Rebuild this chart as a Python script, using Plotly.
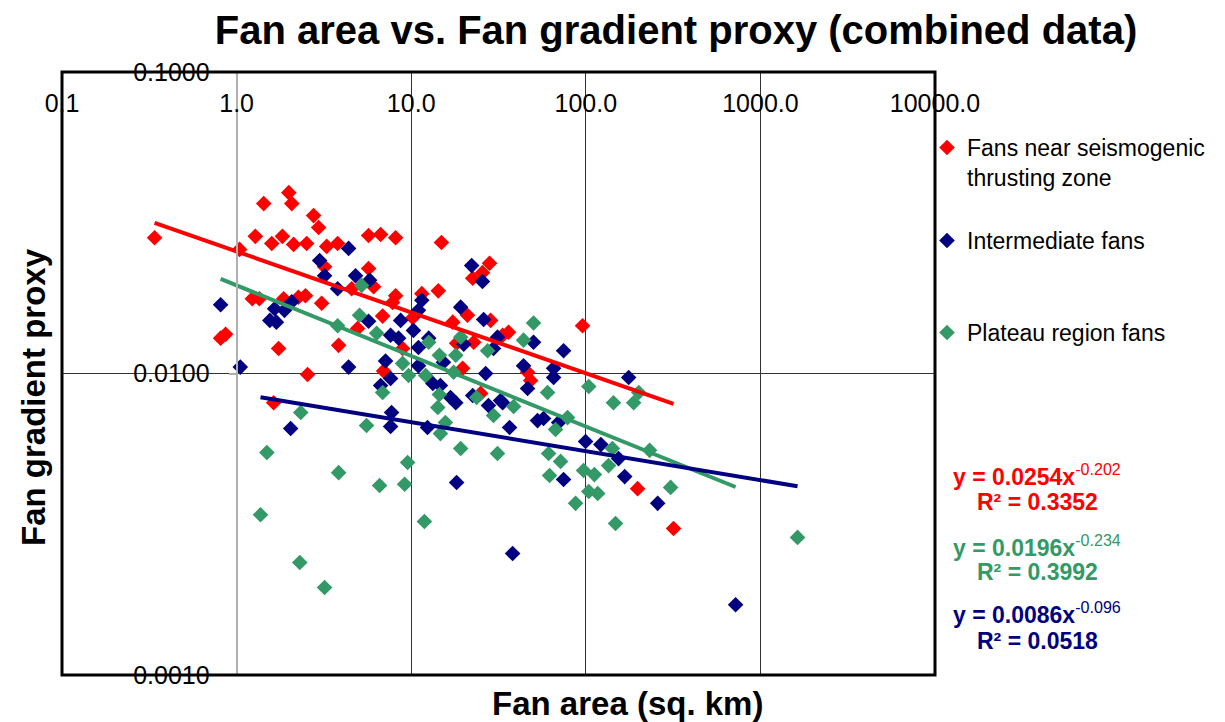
import plotly.graph_objects as go
import numpy as np

# ---------------- data ----------------
series_names = ["Fans near seismogenic<br>thrusting zone", "Intermediate fans", "Plateau region fans"]
series_colors = ["#FF0000", "#000080", "#339966"]

red_x = [0.339, 1.04, 1.43, 1.99, 2.07, 2.76, 2.95, 1.28, 1.83, 1.59, 2.12, 2.52, 3.28, 3.79, 5.70,
         6.68, 8.14, 14.9, 3.19, 5.70, 6.09, 4.56, 1.23, 1.35, 1.86, 2.26, 2.48, 3.07, 8.14, 7.82,
         6.86, 10.2, 0.865, 0.81, 4.93, 1.74, 3.84, 2.55, 6.95, 1.63, 28.1, 25.6, 22.5, 14.3, 11.5,
         21.0, 28.5, 17.3, 36.1, 33.4, 22.8, 18.2, 95.8, 19.7, 46.4, 48.3, 25.0, 8.93, 198, 318]
red_y = [0.0282, 0.0258, 0.0366, 0.0398, 0.0366, 0.0334, 0.0305, 0.0285, 0.0285, 0.0270, 0.0268,
         0.0270, 0.0264, 0.0270, 0.0287, 0.0289, 0.0282, 0.0272, 0.0226, 0.0223, 0.0194, 0.0191,
         0.0177, 0.0177, 0.0177, 0.0179, 0.0181, 0.0171, 0.0181, 0.0172, 0.0155, 0.0153, 0.0135,
         0.0131, 0.0141, 0.0121, 0.0124, 0.00992, 0.0102, 0.0080, 0.0232, 0.0216, 0.0207, 0.0188,
         0.0184, 0.0156, 0.0150, 0.0148, 0.0137, 0.0134, 0.0127, 0.0126, 0.0144, 0.0104, 0.0101,
         0.00948, 0.00859, 0.0121, 0.00415, 0.00306]

blue_x = [0.81, 1.05, 4.38, 2.99, 3.19, 4.80, 5.78, 3.79, 2.07, 1.65, 1.88, 1.55, 1.69, 5.70, 8.70,
          10.3, 7.62, 8.47, 22.2, 25.6, 11.5, 11.0, 19.2, 26.0, 12.6, 31.2, 20.0, 50.2, 74.6, 11.0,
          29.6, 44.0, 65.4, 65.4, 26.7, 15.3, 11.0, 13.3, 14.7, 46.4, 176, 16.8, 22.5, 32.5, 4.38,
          7.13, 7.62, 6.68, 18.0, 27.7, 2.04, 7.72, 7.62, 12.4, 33.4, 36.6, 52.9, 57.3, 69.9, 99.7,
          122, 154, 167, 74.6, 258, 18.2, 38.1, 721]
blue_y = [0.0169, 0.0105, 0.0260, 0.0237, 0.0211, 0.0211, 0.0204, 0.0191, 0.0173, 0.0164, 0.0162,
          0.0150, 0.0148, 0.0149, 0.0150, 0.0139, 0.0134, 0.0131, 0.0228, 0.0202, 0.0175, 0.0162,
          0.0166, 0.0151, 0.0131, 0.0132, 0.0125, 0.0127, 0.0119, 0.0122, 0.0121, 0.0106, 0.0104,
          0.0097, 0.0100, 0.0109, 0.0106, 0.00927, 0.00912, 0.00892, 0.0097, 0.00833, 0.00845,
          0.00814, 0.0105, 0.0110, 0.00963, 0.00912, 0.0080, 0.00783, 0.00657, 0.00742, 0.00667,
          0.00662, 0.0080, 0.00662, 0.00698, 0.00709, 0.00688, 0.00595, 0.00581, 0.00522, 0.00455,
          0.00445, 0.00371, 0.00435, 0.00253, 0.00171]

green_x = [5.20, 3.79, 5.06, 6.34, 50.2, 12.6, 19.2, 44.0, 27.4, 14.5, 18.0, 8.93, 9.66, 12.1, 17.5,
           14.5, 23.7, 60.4, 104, 201, 144, 188, 6.86, 14.2, 29.6, 2.33, 5.55, 14.7, 15.7, 19.2,
           1.49, 9.54, 31.2, 38.6, 78.6, 67.1, 142, 232, 61.2, 71.7, 135, 97.1, 112, 62.0, 104,
           117, 306, 87.4, 148, 2.30, 3.19, 3.84, 6.59, 9.17, 11.9, 1.37, 1632]
green_y = [0.0196, 0.0144, 0.0156, 0.0136, 0.0147, 0.0127, 0.0132, 0.0129, 0.0119, 0.0115, 0.0115,
           0.0108, 0.00985, 0.00985, 0.0101, 0.00852, 0.00833, 0.00865, 0.00906, 0.00865, 0.0080,
           0.0080, 0.00865, 0.00771, 0.00726, 0.00742, 0.00672, 0.00632, 0.00688, 0.00564, 0.00547,
           0.00507, 0.00543, 0.00777, 0.00714, 0.00652, 0.00564, 0.00556, 0.00543, 0.00511, 0.00495,
           0.00477, 0.00462, 0.00459, 0.00406, 0.0040, 0.00419, 0.00371, 0.00318, 0.00236, 0.00195,
           0.00469, 0.00425, 0.00429, 0.00323, 0.00340, 0.00286]

# power-law trendlines as printed on the chart: y = a * x^b
trend_a = [0.0254, 0.0196, 0.0086]
trend_b = [-0.202, -0.234, -0.096]
trend_r2 = [0.3352, 0.3992, 0.0518]
trend_colors = ["#FF0000", "#339966", "#000080"]
trend_span = [0, 1, 2]  # series whose x-extent each drawn line covers

x_tickvals = [0.1, 1, 10, 100, 1000, 10000]
x_ticktext = ["0.1", "1.0", "10.0", "100.0", "1000.0", "10000.0"]
y_tickvals = [0.001, 0.01, 0.1]
y_ticktext = ["0.0010", "0.0100", "0.1000"]

# ---------------- layout geometry ----------------
W, H = 1225, 722
L, R, T, B = 62, 935, 72, 675
FONT = "Liberation Sans, Arial, sans-serif"


def px_x(p):
    return (p - L) / (R - L)


def px_y(p):
    return 1 - (p - T) / (B - T)


xs = [red_x, blue_x, green_x]
ys = [red_y, blue_y, green_y]

fig = go.Figure()
legend_ids = ["legend", "legend2", "legend3"]
for i in range(3):
    fig.add_trace(go.Scatter(
        x=xs[i], y=ys[i], mode="markers", name=series_names[i],
        marker=dict(symbol="diamond", size=12, color=series_colors[i], line=dict(width=0)),
        legend=legend_ids[i], cliponaxis=False,
    ))

for k in range(3):
    src = np.array(xs[trend_span[k]], dtype=float)
    lx = np.logspace(np.log10(src.min()), np.log10(src.max()), 30)
    ly = trend_a[k] * lx ** trend_b[k]
    fig.add_trace(go.Scatter(x=lx, y=ly, mode="lines", showlegend=False,
                             line=dict(color=trend_colors[k], width=4), hoverinfo="skip"))

legend_common = dict(xanchor="left", yanchor="top", bgcolor="rgba(0,0,0,0)", borderwidth=0,
                     font=dict(family=FONT, size=23, color="black"), valign="top",
                     itemwidth=30, xref="paper", yref="paper")

annotations = [
    dict(text="<b>Fan area (sq. km)</b>", x=px_x(627), y=px_y(703), xref="paper", yref="paper",
         showarrow=False, xanchor="center", yanchor="middle",
         font=dict(family=FONT, size=33, color="black")),
    dict(text="<b>Fan gradient proxy</b>", x=px_x(33), y=px_y(397), xref="paper", yref="paper",
         showarrow=False, textangle=-90, xanchor="center", yanchor="middle",
         font=dict(family=FONT, size=33, color="black")),
]
eq_rows = [(475, 502), (546, 572), (613, 641)]
for k in range(3):
    y1, y2 = eq_rows[k]
    annotations.append(dict(
        text="<b>y = %.4fx</b><sup>%.3f</sup>" % (trend_a[k], trend_b[k]),
        x=px_x(1037), y=px_y(y1), xref="paper", yref="paper", showarrow=False,
        xanchor="center", yanchor="middle", font=dict(family=FONT, size=23, color=trend_colors[k])))
    annotations.append(dict(
        text="<b>R² = %.4f</b>" % trend_r2[k],
        x=px_x(1037), y=px_y(y2), xref="paper", yref="paper", showarrow=False,
        xanchor="center", yanchor="middle", font=dict(family=FONT, size=23, color=trend_colors[k])))

fig.update_layout(
    width=W, height=H,
    margin=dict(l=L, r=W - R, t=T, b=H - B, pad=0),
    paper_bgcolor="white", plot_bgcolor="white",
    title=dict(text="<b>Fan area vs. Fan gradient proxy (combined data)</b>",
               x=676 / W, y=1 - 30 / H, xref="container", yref="container",
               xanchor="center", yanchor="middle",
               font=dict(family=FONT, size=40, color="black")),
    xaxis=dict(type="log", range=[-1, 4], anchor="free", position=1, side="bottom",
               tickvals=x_tickvals, ticktext=x_ticktext, ticks="",
               tickfont=dict(family=FONT, size=25, color="black"),
               showgrid=True, gridcolor="#333333", gridwidth=1, showline=False, zeroline=False,
               ticklabelstandoff=14),
    yaxis=dict(type="log", range=[-3, -1], anchor="free", position=0.2, side="left",
               tickvals=y_tickvals, ticktext=y_ticktext, ticks="outside", ticklen=7,
               tickcolor="#b0b0b0", tickwidth=2,
               tickfont=dict(family=FONT, size=25, color="black"),
               showgrid=True, gridcolor="#333333", gridwidth=1,
               showline=True, linecolor="#b0b0b0", linewidth=2, zeroline=False,
               ticklabelstandoff=14),
    legend=dict(x=px_x(927), y=px_y(126), **legend_common),
    legend2=dict(x=px_x(927), y=px_y(219), **legend_common),
    legend3=dict(x=px_x(927), y=px_y(311), **legend_common),
    annotations=annotations,
    shapes=[dict(type="rect", xref="paper", yref="paper", x0=0, x1=1, y0=0, y1=1,
                 line=dict(color="black", width=3), layer="above")],
    showlegend=True,
)

fig.write_html("out.html", post_script="document.body.style.margin='0';",
               config={"displayModeBar": False})
